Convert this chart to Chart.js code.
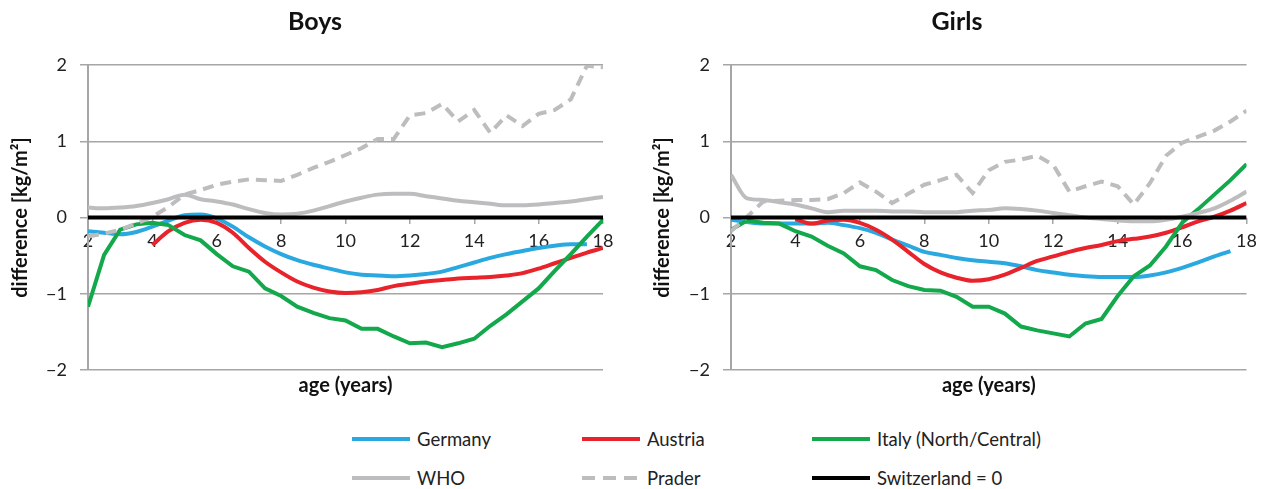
<!DOCTYPE html>
<html>
<head>
<meta charset="utf-8">
<script src="https://cdn.jsdelivr.net/npm/chart.js@4.4.1/dist/chart.umd.min.js"></script>
<style>
  body { margin: 0; background: #fff; font-family: Lato, "Noto Sans", sans-serif; }
  #wrap { position: relative; width: 1264px; height: 489px; overflow: hidden; }
  canvas { position: absolute; top: 0; }
  .ttl { position: absolute; top: 5px; font-weight: bold; font-size: 25px; color: #111; transform: translateX(-50%); }
  .key { position: absolute; font-size: 18.5px; color: #222; display: flex; align-items: center; height: 24px; white-space: nowrap; }
  .key svg { margin-right: 7px; }
</style>
</head>
<body>
<div id="wrap">
  <canvas id="boys" width="632" height="400" style="left:0"></canvas>
  <canvas id="girls" width="622" height="400" style="left:642px"></canvas>
  <div class="ttl" style="left:315px">Boys</div>
  <div class="ttl" style="left:957px">Girls</div>
  <div id="legend"></div>
</div>
<script>
// ages in years, half-year steps
const ages = [2, 2.5, 3, 3.5, 4, 4.5, 5, 5.5, 6, 6.5, 7, 7.5, 8, 8.5, 9, 9.5, 10,
              10.5, 11, 11.5, 12, 12.5, 13, 13.5, 14, 14.5, 15, 15.5, 16, 16.5, 17, 17.5, 18];
const xTicks = [2, 4, 6, 8, 10, 12, 14, 16, 18];
const yTicks = [-2, -1, 0, 1, 2];

// Boys
const boysGermany = [-0.18, -0.20, -0.22, -0.19, -0.12, -0.04, 0.03, 0.04, -0.01, -0.12, -0.26, -0.38, -0.48, -0.56, -0.62, -0.67, -0.72,
                     -0.75, -0.76, -0.77, -0.76, -0.74, -0.71, -0.65, -0.59, -0.53, -0.48, -0.44, -0.40, -0.37, -0.35, -0.35, null];
const boysAustria = [null, null, null, null, -0.36, -0.18, -0.07, -0.03, -0.07, -0.20, -0.40, -0.58, -0.72, -0.84, -0.92, -0.97, -0.99,
                     -0.98, -0.95, -0.90, -0.87, -0.84, -0.82, -0.80, -0.79, -0.78, -0.76, -0.73, -0.67, -0.60, -0.53, -0.46, -0.40];
const boysItaly   = [-1.17, -0.49, -0.16, -0.09, -0.07, -0.10, -0.23, -0.30, -0.48, -0.64, -0.71, -0.93, -1.03, -1.17, -1.25, -1.32, -1.35,
                     -1.46, -1.46, -1.56, -1.65, -1.64, -1.70, -1.65, -1.59, -1.42, -1.27, -1.10, -0.93, -0.70, -0.48, -0.25, -0.03];
const boysWHO     = [0.13, 0.12, 0.13, 0.15, 0.19, 0.24, 0.30, 0.24, 0.21, 0.17, 0.11, 0.06, 0.04, 0.05, 0.09, 0.15, 0.21,
                     0.26, 0.30, 0.31, 0.31, 0.28, 0.25, 0.22, 0.20, 0.18, 0.16, 0.16, 0.17, 0.19, 0.21, 0.24, 0.27];
const boysPrader  = [-0.25, -0.21, -0.16, -0.08, 0.01, 0.14, 0.30, 0.36, 0.43, 0.47, 0.50, 0.49, 0.48, 0.56, 0.65, 0.73, 0.82,
                     0.91, 1.03, 1.03, 1.34, 1.37, 1.49, 1.26, 1.41, 1.11, 1.34, 1.20, 1.36, 1.41, 1.55, 1.99, 1.97];

// Girls
const girlsGermany = [-0.03, -0.06, -0.08, -0.08, -0.08, -0.08, -0.07, -0.10, -0.14, -0.20, -0.29, -0.37, -0.45, -0.49, -0.53, -0.56, -0.58,
                      -0.60, -0.64, -0.69, -0.72, -0.75, -0.77, -0.78, -0.78, -0.78, -0.76, -0.72, -0.66, -0.59, -0.51, -0.44, null];
const girlsAustria = [null, null, null, null, -0.02, -0.08, -0.04, -0.03, -0.07, -0.16, -0.29, -0.45, -0.61, -0.72, -0.79, -0.83, -0.81,
                      -0.75, -0.66, -0.57, -0.51, -0.45, -0.40, -0.36, -0.31, -0.28, -0.25, -0.20, -0.13, -0.05, 0.01, 0.09, 0.19];
const girlsItaly   = [-0.16, -0.04, -0.07, -0.08, -0.18, -0.25, -0.37, -0.47, -0.64, -0.69, -0.82, -0.90, -0.95, -0.96, -1.04, -1.17, -1.17,
                      -1.26, -1.43, -1.48, -1.52, -1.56, -1.39, -1.33, -1.03, -0.77, -0.63, -0.38, -0.07, 0.11, 0.30, 0.49, 0.70];
const girlsWHO     = [0.56, 0.25, 0.23, 0.20, 0.17, 0.12, 0.07, 0.09, 0.09, 0.09, 0.08, 0.08, 0.07, 0.07, 0.07, 0.09, 0.10,
                      0.12, 0.11, 0.09, 0.06, 0.03, 0.00, -0.02, -0.04, -0.05, -0.05, -0.03, 0.01, 0.06, 0.12, 0.22, 0.34];
const girlsPrader  = [-0.18, 0.01, 0.21, 0.22, 0.23, 0.23, 0.24, 0.32, 0.46, 0.34, 0.19, 0.31, 0.43, 0.49, 0.56, 0.32, 0.62,
                      0.73, 0.76, 0.81, 0.69, 0.34, 0.41, 0.47, 0.41, 0.17, 0.45, 0.81, 0.98, 1.06, 1.14, 1.26, 1.40];

// reference line
const swissAges = [2, 18];
const swissVals = [0, 0];

const series = [
  { name: 'Germany', color: '#2aa9e0', smooth: true, dash: [] },
  { name: 'Austria', color: '#e8232b', smooth: true, dash: [] },
  { name: 'Italy (North/Central)', color: '#12a84b', smooth: false, dash: [] },
  { name: 'WHO', color: '#bdbdbf', smooth: true, dash: [] },
  { name: 'Prader', color: '#bdbdbf', smooth: false, dash: [11, 7] },
  { name: 'Switzerland = 0', color: '#000000', smooth: false, dash: [] }
];

const grey = '#a6a6a6';
const font = 'Lato, "Noto Sans", sans-serif';

function toPoints(xs, ys) {
  return xs.map((x, i) => ({ x: x, y: ys[i] }));
}

function datasets(valueLists) {
  return series.map((s, i) => {
    const isSwiss = i === series.length - 1;
    return {
      label: s.name,
      data: isSwiss ? toPoints(swissAges, swissVals) : toPoints(ages, valueLists[i]),
      borderColor: s.color,
      borderWidth: 4,
      borderDash: s.dash,
      pointRadius: 0,
      fill: false,
      tension: 0,
      cubicInterpolationMode: s.smooth ? 'monotone' : 'default',
      order: series.length - i
    };
  });
}

function options(yWidth, padRight) {
  return {
    responsive: false,
    animation: false,
    layout: { padding: { top: 65, right: padRight, left: 0, bottom: 0 } },
    plugins: { legend: { display: false }, tooltip: { enabled: false }, title: { display: false } },
    scales: {
      x: {
        type: 'linear', min: 2, max: 18, position: 'bottom',
        ticks: { display: false },
        grid: { display: false, drawTicks: false },
        border: { display: false },
        title: { display: true, text: 'age (years)', color: '#111',
                 font: { family: font, size: 20, weight: 'bold' }, padding: { top: 4, bottom: 2 } }
      },
      x0: {
        type: 'linear', min: 2, max: 18, position: { y: 0 },
        afterBuildTicks: s => { s.ticks = xTicks.map(v => ({ value: v })); },
        ticks: { color: '#222', font: { family: font, size: 18 }, padding: 7, maxRotation: 0, autoSkip: false },
        grid: { drawOnChartArea: false, tickLength: 6, color: grey, lineWidth: 1.5 },
        border: { display: false }
      },
      y: {
        min: -2, max: 2,
        afterBuildTicks: s => { s.ticks = yTicks.map(v => ({ value: v })); },
        afterFit: s => { s.width = yWidth; },
        ticks: { color: '#222', font: { family: font, size: 18 }, padding: 13,
                 callback: v => v < 0 ? '\u2212' + Math.abs(v) : String(v) },
        grid: { color: grey, lineWidth: 1.5, tickLength: 8 },
        border: { color: grey, width: 2 },
        title: { display: true, text: 'difference [kg/m\u00b2]', color: '#111',
                 font: { family: font, size: 20, weight: 'bold' }, padding: { top: 9, bottom: 0 } }
      }
    }
  };
}

new Chart(document.getElementById('boys'), {
  type: 'line',
  data: { datasets: datasets([boysGermany, boysAustria, boysItaly, boysWHO, boysPrader]) },
  options: options(88, 29)
});

new Chart(document.getElementById('girls'), {
  type: 'line',
  data: { datasets: datasets([girlsGermany, girlsAustria, girlsItaly, girlsWHO, girlsPrader]) },
  options: options(89, 17)
});

// shared legend, 3 columns x 2 rows
const legendCols = [352, 582, 812];
const legendRows = [439, 478];
const legend = document.getElementById('legend');
series.forEach((s, i) => {
  const el = document.createElement('div');
  el.className = 'key';
  el.style.left = legendCols[i % 3] + 'px';
  el.style.top = (legendRows[Math.floor(i / 3)] - 12) + 'px';
  const dash = s.dash.length ? ' stroke-dasharray="13 8"' : '';
  el.innerHTML = '<svg width="58" height="6"><line x1="0" y1="3" x2="58" y2="3" stroke="' + s.color +
                 '" stroke-width="4"' + dash + '/></svg><span>' + s.name + '</span>';
  legend.appendChild(el);
});
</script>
</body>
</html>
